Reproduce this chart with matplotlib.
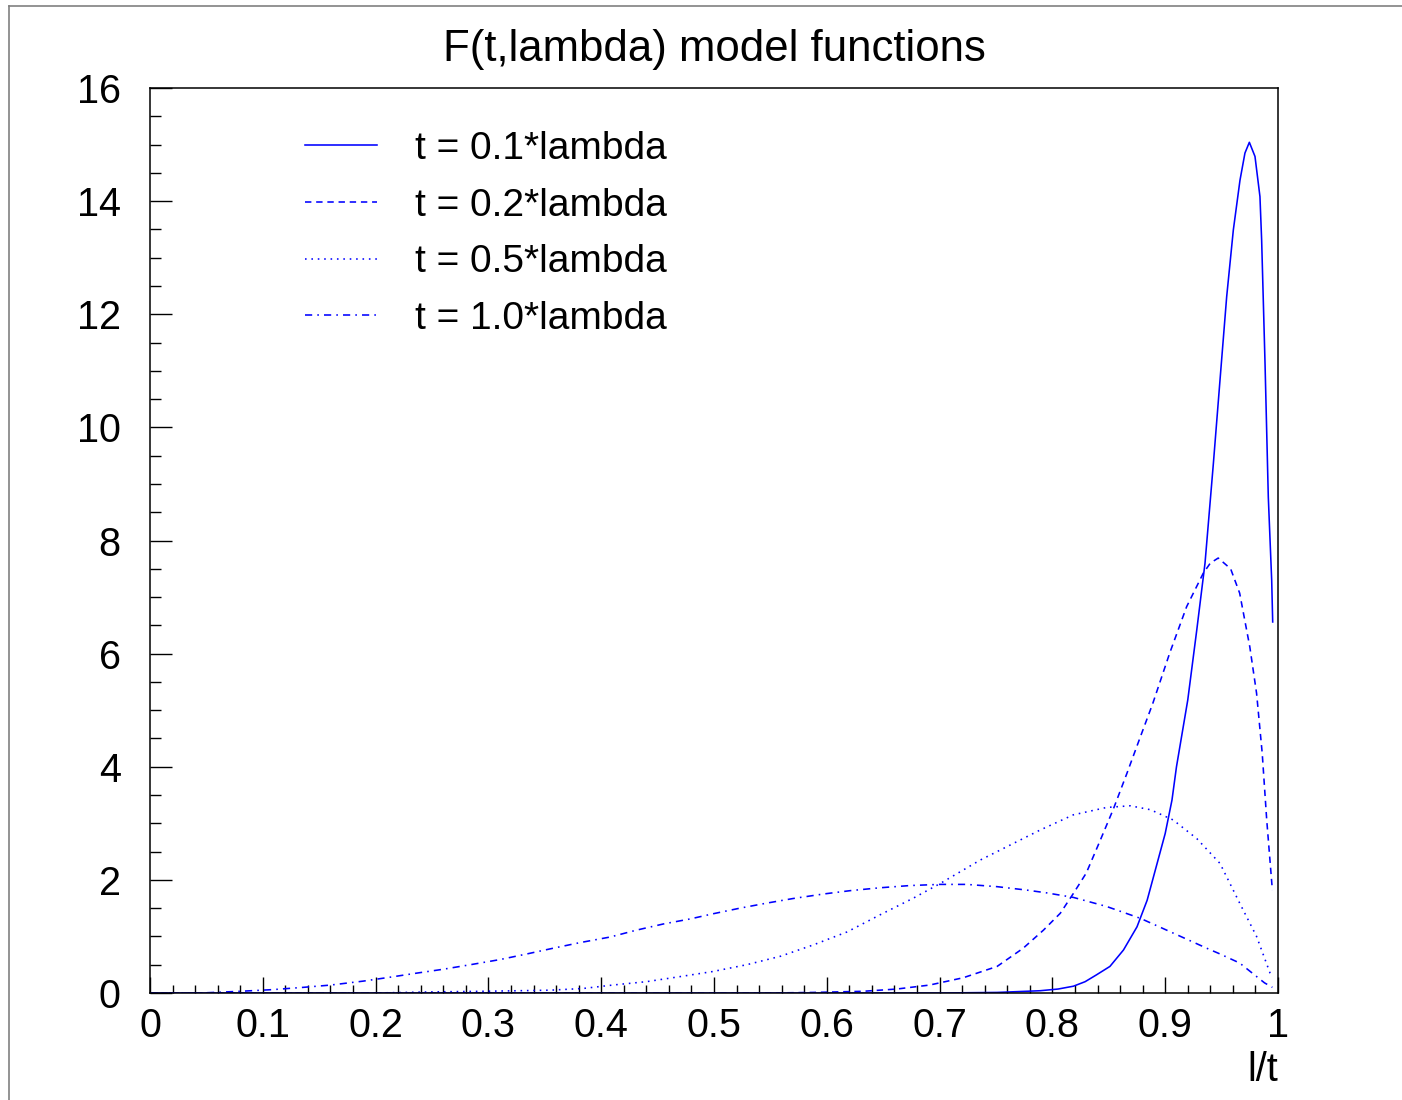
import matplotlib
matplotlib.use("Agg")
import matplotlib.pyplot as plt
from matplotlib.lines import Line2D
from matplotlib.ticker import FixedLocator, MultipleLocator

plt.rcParams['font.family'] = ['Liberation Sans', 'DejaVu Sans']

# ---- data ----
x_t01 = [0.0, 0.70, 0.751, 0.789, 0.805, 0.8186, 0.829, 0.839, 0.851, 0.863, 0.875, 0.884,
         0.892, 0.900, 0.906, 0.910, 0.915, 0.920, 0.928, 0.9353, 0.9427, 0.9486, 0.9545,
         0.9604, 0.9663, 0.9707, 0.9746, 0.9796, 0.984, 0.9855, 0.9885, 0.9914, 0.9944,
         0.9953]
y_t01 = [0.0, 0.0, 0.01, 0.04, 0.07, 0.12, 0.20, 0.32, 0.47, 0.76, 1.17, 1.64,
         2.23, 2.82, 3.41, 4.00, 4.59, 5.18, 6.42, 7.60, 9.36, 10.84, 12.31,
         13.49, 14.37, 14.85, 15.04, 14.79, 14.08, 13.31, 11.13, 8.77, 7.30,
         6.56]

x_t02 = [0.0, 0.55, 0.588, 0.632, 0.662, 0.691, 0.721, 0.751, 0.774, 0.792, 0.807, 0.8186,
         0.830, 0.842, 0.854, 0.866, 0.878, 0.889, 0.904, 0.919, 0.9337, 0.940, 0.947,
         0.958, 0.966, 0.975, 0.981, 0.986, 0.990, 0.995]
y_t02 = [0.0, 0.0, 0.01, 0.03, 0.07, 0.14, 0.27, 0.47, 0.79, 1.11, 1.41, 1.76,
         2.12, 2.68, 3.25, 3.88, 4.53, 5.12, 6.01, 6.83, 7.42, 7.60, 7.69,
         7.5, 7.07, 6.12, 5.3, 4.24, 3.06, 1.82]

x_t05 = [0.0, 0.2, 0.251, 0.295, 0.325, 0.355, 0.384, 0.41, 0.44, 0.47, 0.499, 0.529,
         0.559, 0.588, 0.618, 0.647, 0.677, 0.700, 0.736, 0.771, 0.789, 0.8186, 0.848,
         0.869, 0.887, 0.907, 0.928, 0.9486, 0.966, 0.981, 0.993, 0.995]
y_t05 = [0.0, 0.0, 0.02, 0.03, 0.04, 0.05, 0.08, 0.14, 0.2, 0.29, 0.38, 0.50,
         0.65, 0.85, 1.08, 1.38, 1.68, 1.93, 2.35, 2.70, 2.88, 3.15, 3.28,
         3.31, 3.24, 3.06, 2.73, 2.29, 1.59, 1.0, 0.35, 0.28]

x_t10 = [0.0, 0.045, 0.0798, 0.109, 0.136, 0.16, 0.189, 0.213, 0.236, 0.26, 0.284, 0.31,
         0.334, 0.357, 0.381, 0.408, 0.431, 0.455, 0.479, 0.499, 0.523, 0.547, 0.570,
         0.597, 0.621, 0.647, 0.674, 0.700, 0.724, 0.751, 0.777, 0.795, 0.8186, 0.848,
         0.878, 0.907, 0.937, 0.9486, 0.966, 0.988, 0.995]
y_t10 = [0.0, 0.0, 0.03, 0.06, 0.10, 0.14, 0.21, 0.28, 0.35, 0.42, 0.50, 0.59,
         0.69, 0.79, 0.89, 0.99, 1.11, 1.22, 1.31, 1.40, 1.50, 1.59, 1.67,
         1.75, 1.81, 1.86, 1.90, 1.92, 1.92, 1.88, 1.82, 1.77, 1.69, 1.53,
         1.32, 1.06, 0.79, 0.69, 0.53, 0.18, 0.1]

labels = ["t = 0.1*lambda", "t = 0.2*lambda", "t = 0.5*lambda", "t = 1.0*lambda"]
x_ticks = [0, 0.1, 0.2, 0.3, 0.4, 0.5, 0.6, 0.7, 0.8, 0.9, 1.0]
x_ticklabels = ["0", "0.1", "0.2", "0.3", "0.4", "0.5", "0.6", "0.7", "0.8", "0.9", "1"]
y_ticks = [0, 2, 4, 6, 8, 10, 12, 14, 16]
title = "F(t,lambda) model functions"
xlabel = "l/t"

# ---- figure ----
W, H = 1402, 1100
fig = plt.figure(figsize=(W / 100, H / 100), dpi=100)
ax = fig.add_axes([150 / W, 1 - 993 / H, (1278 - 150) / W, (993 - 88) / H])

blue = '#0000ff'
lw = 1.15
styles = ['-', (0, (4.0, 3.0)), (0, (1.0, 3.0)), (0, (4.5, 3.2, 1.0, 3.2))]
series = [(x_t01, y_t01), (x_t02, y_t02), (x_t05, y_t05), (x_t10, y_t10)]
for (xs, ys), ls, lab in zip(series, styles, labels):
    ax.plot(xs, ys, color=blue, lw=lw, linestyle=ls, label=lab, clip_on=True,
            solid_joinstyle='round', dash_joinstyle='round')

ax.set_xlim(0, 1)
ax.set_ylim(0, 16)
ax.xaxis.set_major_locator(FixedLocator(x_ticks))
ax.set_xticklabels(x_ticklabels)
ax.xaxis.set_minor_locator(MultipleLocator(0.02))
ax.yaxis.set_major_locator(FixedLocator(y_ticks))
ax.yaxis.set_minor_locator(MultipleLocator(0.5))

ax.tick_params(axis='x', which='major', direction='in', length=11.5, width=1.0,
               labelsize=28.5, pad=10, top=False)
ax.tick_params(axis='x', which='minor', direction='in', length=5.8, width=1.0, top=False)
ax.tick_params(axis='y', which='major', direction='in', length=16, width=1.0,
               labelsize=28.5, pad=21, right=False)
ax.tick_params(axis='y', which='minor', direction='in', length=8, width=1.0, right=False)
for sp in ax.spines.values():
    sp.set_linewidth(1.1)
    sp.set_color('black')

fig.text(714 / W, 1 - 49 / H, title, ha='center', va='center', fontsize=31.5)
fig.text(1278 / W, 1 - 1070 / H, xlabel, ha='right', va='center', fontsize=28.5)

leg = ax.legend(loc='upper left', bbox_to_anchor=(305 / W, 1 - 131 / H),
                bbox_transform=fig.transFigure, frameon=False, fontsize=28,
                handlelength=1.85, handletextpad=0.98, labelspacing=0.53,
                borderpad=0, borderaxespad=0)

# canvas border (left and top)
fig.add_artist(Line2D([8.5 / W, 8.5 / W], [0, 1 - 6 / H], transform=fig.transFigure,
                      color='#808080', lw=1.2))
fig.add_artist(Line2D([8.5 / W, 1], [1 - 6 / H, 1 - 6 / H], transform=fig.transFigure,
                      color='#808080', lw=1.2))

fig.savefig('out.png', dpi=100)
